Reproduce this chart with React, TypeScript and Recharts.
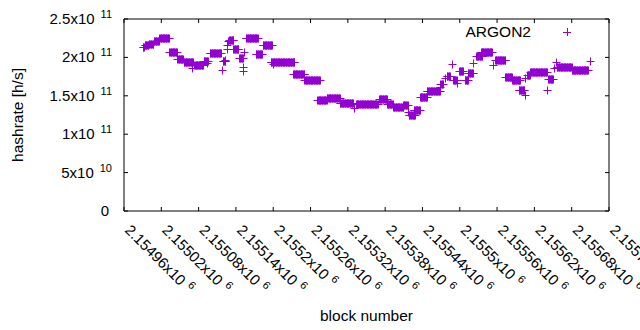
import React from 'react';
import { ScatterChart, Scatter, XAxis, YAxis, Legend, Label } from 'recharts';

const PURPLE = '#9400d3';
const FONT = '"Liberation Sans", Arial, sans-serif';

// Runs of consecutive blocks that share one hashrate value
const runStart = [
  2154990, 2154993, 2155000, 2155008, 2155017, 2155033, 2155046, 2155056, 2155069, 2155073,
  2155088, 2155093, 2155098, 2155118, 2155119, 2155122, 2155125, 2155126, 2155127, 2155129,
  2155136, 2155145, 2155151, 2155152, 2155153, 2155156, 2155172, 2155183, 2155196, 2155200,
  2155232, 2155250, 2155271, 2155286, 2155307, 2155330, 2155333, 2155370, 2155383, 2155393,
  2155409, 2155417, 2155418, 2155426, 2155436, 2155447, 2155468, 2155469, 2155476, 2155479,
  2155487, 2155489, 2155496, 2155499, 2155508, 2155513, 2155521, 2155526, 2155534, 2155553,
  2155557, 2155573, 2155584, 2155595, 2155605, 2155605, 2155608, 2155613, 2155640, 2155642,
  2155651, 2155655, 2155656, 2155680, 2155709,
];
const runEnd = [
  2154992, 2154999, 2155007, 2155016, 2155032, 2155045, 2155055, 2155071, 2155069, 2155087,
  2155095, 2155093, 2155116, 2155118, 2155123, 2155122, 2155125, 2155126, 2155127, 2155136,
  2155144, 2155151, 2155151, 2155152, 2155153, 2155175, 2155182, 2155198, 2155234, 2155200,
  2155250, 2155275, 2155286, 2155307, 2155328, 2155330, 2155368, 2155383, 2155392, 2155409,
  2155416, 2155417, 2155428, 2155436, 2155447, 2155468, 2155468, 2155473, 2155476, 2155484,
  2155487, 2155495, 2155496, 2155505, 2155513, 2155521, 2155521, 2155536, 2155552, 2155553,
  2155573, 2155584, 2155597, 2155604, 2155605, 2155605, 2155613, 2155640, 2155640, 2155650,
  2155651, 2155655, 2155680, 2155706, 2155709,
];
const runHashrate = [
  2.14e11, 2.16e11, 2.18e11, 2.21e11, 2.25e11, 2.07e11, 1.98e11, 1.94e11, 1.86e11, 1.9e11,
  1.95e11, 1.93e11, 2.06e11, 1.83e11, 1.95e11, 1.97e11, 2.11e11, 2.16e11, 2.21e11, 2.23e11,
  2.11e11, 1.99e11, 1.87e11, 1.82e11, 2.07e11, 2.25e11, 2.05e11, 2.16e11, 1.94e11, 1.92e11,
  1.78e11, 1.71e11, 1.44e11, 1.47e11, 1.41e11, 1.34e11, 1.39e11, 1.46e11, 1.39e11, 1.35e11,
  1.38e11, 1.29e11, 1.25e11, 1.32e11, 1.49e11, 1.56e11, 1.62e11, 1.66e11, 1.73e11, 1.76e11,
  1.91e11, 1.7e11, 1.67e11, 1.82e11, 1.7e11, 1.8e11, 1.93e11, 2.02e11, 2.07e11, 1.9e11,
  1.97e11, 1.75e11, 1.71e11, 1.57e11, 1.51e11, 1.73e11, 1.77e11, 1.81e11, 1.58e11, 1.72e11,
  1.86e11, 1.94e11, 1.87e11, 1.84e11, 1.95e11,
];

const xTicks = [
  2154960, 2155020, 2155080, 2155140, 2155200, 2155260, 2155320,
  2155380, 2155440, 2155500, 2155560, 2155620, 2155680, 2155740,
];
const xTickMantissa = [
  '2.15496', '2.15502', '2.15508', '2.15514', '2.1552', '2.15526', '2.15532',
  '2.15538', '2.15544', '2.1555', '2.15556', '2.15562', '2.15568', '2.15574',
];
const xTickExponent = '6';

const yTicks = [0, 5e10, 1e11, 1.5e11, 2e11, 2.5e11];
const yTickMantissa = ['0', '5', '1', '1.5', '2', '2.5'];
const yTickExponent = ['', '10', '11', '11', '11', '11'];

const seriesName = 'ARGON2';

const data: { block: number; hashrate: number }[] = [];
runStart.forEach((s, i) => {
  for (let b = s; b <= runEnd[i]; b++) data.push({ block: b, hashrate: runHashrate[i] });
});

const PlusShape = (props: any) => {
  const { cx, cy } = props;
  if (cx == null || cy == null) return <g />;
  const px = Math.round(cx) + 0.5;
  const py = Math.round(cy) + 0.5;
  return (
    <path
      d={`M${px - 4},${py}H${px + 4}M${px},${py - 4}V${py + 4}`}
      stroke={PURPLE}
      strokeWidth={1}
      fill="none"
    />
  );
};

const EmptyShape = () => <g />;

const BottomTick = (props: any) => {
  const { x, y, payload } = props;
  const i = xTicks.indexOf(payload.value);
  return (
    <g>
      <line x1={x} y1={y} x2={x} y2={y - 4} stroke="#000" strokeWidth={1} />
      <text
        transform={`translate(${x},${y + 20}) rotate(45)`}
        fontSize={15}
        fontFamily={FONT}
        fill="#000"
      >
        {xTickMantissa[i]}x10
        <tspan dx={5} dy={-6} fontSize={11}>
          {xTickExponent}
        </tspan>
      </text>
    </g>
  );
};

const TopTick = (props: any) => {
  const { x, y } = props;
  return <line x1={x} y1={y} x2={x} y2={y + 4} stroke="#000" strokeWidth={1} />;
};

const LeftTick = (props: any) => {
  const { x, y, payload } = props;
  const i = yTicks.indexOf(payload.value);
  const exp = yTickExponent[i];
  return (
    <g>
      <line x1={x} y1={y} x2={x + 4} y2={y} stroke="#000" strokeWidth={1} />
      <text
        x={exp ? x - 12 : x - 15}
        y={y + 5}
        textAnchor="end"
        fontSize={15}
        fontFamily={FONT}
        fill="#000"
      >
        {yTickMantissa[i]}
        {exp ? 'x10' : ''}
        {exp ? (
          <tspan dx={6} dy={-6} fontSize={11}>
            {exp}
          </tspan>
        ) : null}
      </text>
    </g>
  );
};

const RightTick = (props: any) => {
  const { x, y } = props;
  return <line x1={x} y1={y} x2={x - 4} y2={y} stroke="#000" strokeWidth={1} />;
};

const LegendContent = () => (
  <svg width={640} height={50} style={{ display: 'block' }}>
    <text x={531} y={37} textAnchor="end" fontSize={15.5} fontFamily={FONT} fill="#000">
      {seriesName}
    </text>
    <path d="M563,32.5H571M567.5,28V36" stroke={PURPLE} strokeWidth={1} fill="none" />
  </svg>
);

export default function App() {
  return (
    <div style={{ position: 'absolute', left: 0, top: 0, background: '#fff' }}>
      <ScatterChart width={640} height={330} margin={{ top: 0, right: 0, bottom: 0, left: 0 }}>
        <XAxis
          xAxisId="bottom"
          dataKey="block"
          type="number"
          domain={[xTicks[0], xTicks[xTicks.length - 1]]}
          ticks={xTicks}
          interval={0}
          allowDataOverflow
          height={119}
          tickSize={0}
          tickMargin={0}
          tickLine={false}
          axisLine={{ stroke: '#000' }}
          tick={BottomTick}
        >
          <Label
            content={(p: any) => {
              const vb = p.viewBox;
              return (
                <text
                  x={vb.x + vb.width / 2}
                  y={vb.y + vb.height - 9}
                  textAnchor="middle"
                  fontSize={15.5}
                  fontFamily={FONT}
                  fill="#000"
                >
                  block number
                </text>
              );
            }}
          />
        </XAxis>
        <XAxis
          xAxisId="top"
          orientation="top"
          dataKey="block"
          type="number"
          domain={[xTicks[0], xTicks[xTicks.length - 1]]}
          ticks={xTicks}
          interval={0}
          allowDataOverflow
          height={19}
          tickSize={0}
          tickMargin={0}
          tickLine={false}
          axisLine={{ stroke: '#000' }}
          tick={TopTick}
        />
        <YAxis
          yAxisId="left"
          dataKey="hashrate"
          type="number"
          domain={[yTicks[0], yTicks[yTicks.length - 1]]}
          ticks={yTicks}
          interval={0}
          allowDataOverflow
          width={124}
          tickSize={0}
          tickMargin={0}
          tickLine={false}
          axisLine={{ stroke: '#000' }}
          tick={LeftTick}
        >
          <Label
            content={(p: any) => {
              const vb = p.viewBox;
              const cy = vb.y + vb.height / 2;
              return (
                <text
                  x={23}
                  y={cy}
                  transform={`rotate(-90, 23, ${cy})`}
                  textAnchor="middle"
                  fontSize={15.5}
                  fontFamily={FONT}
                  fill="#000"
                >
                  hashrate [h/s]
                </text>
              );
            }}
          />
        </YAxis>
        <YAxis
          yAxisId="right"
          orientation="right"
          dataKey="hashrate"
          type="number"
          domain={[yTicks[0], yTicks[yTicks.length - 1]]}
          ticks={yTicks}
          interval={0}
          allowDataOverflow
          width={31}
          tickSize={0}
          tickMargin={0}
          tickLine={false}
          axisLine={{ stroke: '#000' }}
          tick={RightTick}
        />
        <Legend
          layout="horizontal"
          verticalAlign="middle"
          align="center"
          content={LegendContent}
          wrapperStyle={{ top: 0, left: 0, width: 640, height: 50 }}
        />
        <Scatter
          name={seriesName}
          data={data}
          xAxisId="bottom"
          yAxisId="left"
          shape={PlusShape}
          isAnimationActive={false}
        />
        <Scatter
          data={data.slice(0, 1)}
          xAxisId="top"
          yAxisId="right"
          shape={EmptyShape}
          legendType="none"
          isAnimationActive={false}
        />
      </ScatterChart>
    </div>
  );
}
